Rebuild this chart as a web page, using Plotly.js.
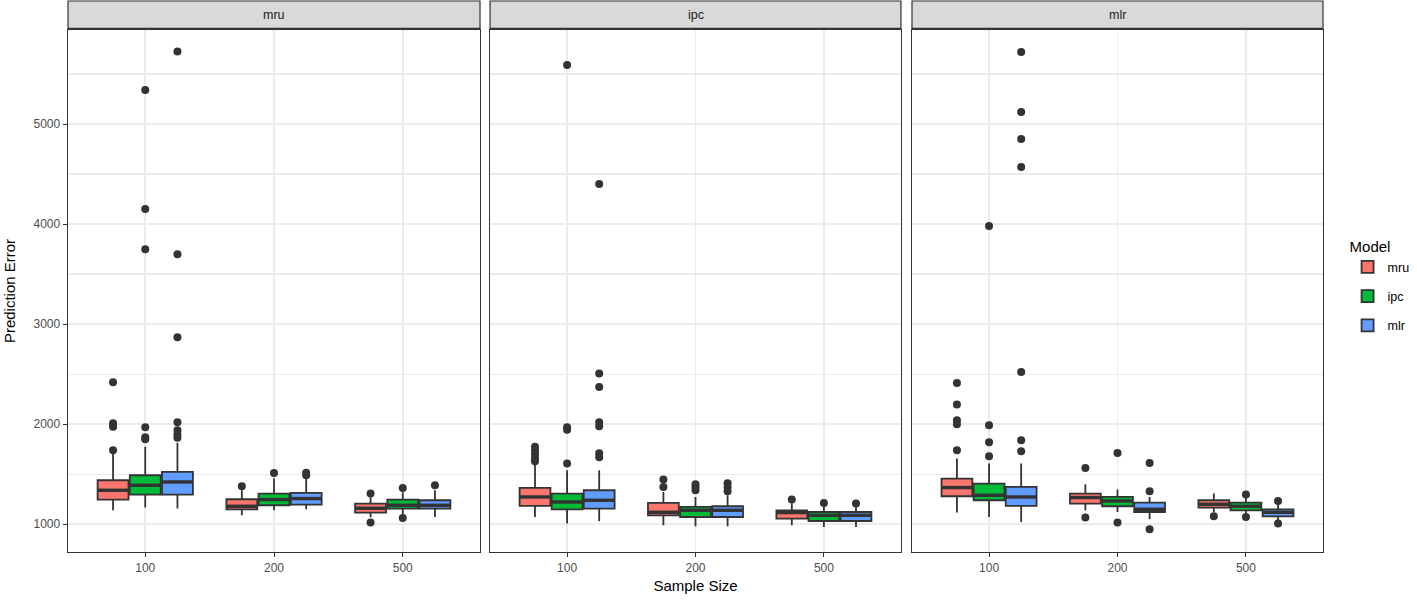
<!DOCTYPE html>
<html>
<head>
<meta charset="utf-8">
<script src="https://cdn.plot.ly/plotly-3.0.1.min.js"></script>
<style>
  body { margin: 0; background: #fff; }
  #chart { width: 1417px; height: 600px; }
</style>
</head>
<body>
<div id="chart"></div>
<script>
// facet panels, boxes inside each panel, x categories
const facets = ["mru", "ipc", "mlr"];
const models = ["mru", "ipc", "mlr"];
const sizes = ["100", "200", "500"];
const colores = ["#F8766D", "#00BA38", "#619CFF"];

// rows = model (mru, ipc, mlr), columns = sample size (100, 200, 500)
// panel "mru"
const mruQ1 = [[1247, 1150, 1117], [1297, 1190, 1157], [1297, 1197, 1157]];
const mruMed = [[1340, 1180, 1160], [1390, 1247, 1190], [1423, 1257, 1190]];
const mruQ3 = [[1440, 1250, 1207], [1490, 1307, 1247], [1523, 1313, 1240]];
const mruLo = [[1140, 1090, 1070], [1167, 1140, 1100], [1157, 1150, 1073]];
const mruHi = [[1710, 1340, 1270], [1775, 1460, 1320], [1815, 1460, 1340]];
const mruOut = [
  [[1740, 1975, 1995, 2010, 2420], [1380], [1307, 1017]],
  [[1850, 1870, 1970, 3750, 4150, 5340], [1513], [1363, 1063]],
  [[1865, 1900, 1940, 2020, 2870, 3700, 5725], [1490, 1515], [1390]]
];

// panel "ipc"
const ipcQ1 = [[1183, 1090, 1057], [1150, 1073, 1033], [1157, 1073, 1033]];
const ipcMed = [[1273, 1120, 1117], [1223, 1140, 1090], [1240, 1140, 1090]];
const ipcQ3 = [[1363, 1213, 1140], [1307, 1173, 1123], [1340, 1180, 1123]];
const ipcLo = [[1073, 990, 990], [1007, 980, 973], [1030, 980, 973]];
const ipcHi = [[1607, 1323, 1210], [1540, 1273, 1180], [1540, 1290, 1180]];
const ipcOut = [
  [[1630, 1660, 1700, 1740, 1775], [1373, 1447], [1247]],
  [[1607, 1945, 1970, 5590], [1340, 1370, 1400], [1213]],
  [[1670, 1710, 1980, 2020, 2373, 2507, 4400], [1330, 1370, 1410], [1207]]
];

// panel "mlr"
const mlrQ1 = [[1280, 1207, 1167], [1240, 1180, 1140], [1183, 1123, 1080]];
const mlrMed = [[1367, 1267, 1200], [1290, 1233, 1180], [1273, 1150, 1120]];
const mlrQ3 = [[1457, 1307, 1240], [1407, 1273, 1217], [1373, 1217, 1150]];
const mlrLo = [[1117, 1140, 1123], [1073, 1123, 1100], [1023, 1050, 1040]];
const mlrHi = [[1657, 1400, 1307], [1607, 1347, 1270], [1607, 1273, 1200]];
const mlrOut = [
  [[1740, 2000, 2040, 2197, 2413], [1563, 1067], [1080]],
  [[1680, 1820, 1990, 3980], [1713, 1017], [1297, 1073]],
  [[1730, 1840, 2523, 4570, 4850, 5120, 5720], [1330, 1613, 950], [1233, 1007]]
];

const panelStats = [
  { q1: mruQ1, med: mruMed, q3: mruQ3, lo: mruLo, hi: mruHi, out: mruOut },
  { q1: ipcQ1, med: ipcMed, q3: ipcQ3, lo: ipcLo, hi: ipcHi, out: ipcOut },
  { q1: mlrQ1, med: mlrMed, q3: mlrQ3, lo: mlrLo, hi: mlrHi, out: mlrOut }
];

const dodge = [-0.25, 0, 0.25];
const anchoCaja = 0.24;
const fuente = "Liberation Sans, Arial, Helvetica, sans-serif";
const dominios = [[0, 0.3283], [0.3363, 0.6637], [0.6725, 1]];

const traces = [];
panelStats.forEach((st, f) => {
  const sufijo = f === 0 ? "" : String(f + 1);
  models.forEach((m, i) => {
    const xs = sizes.map((_, j) => j + 1 + dodge[i]);
    traces.push({
      type: "box",
      name: m,
      legendgroup: m,
      showlegend: f === 0,
      xaxis: "x" + sufijo,
      yaxis: "y" + sufijo,
      x: xs,
      q1: st.q1[i],
      median: st.med[i],
      q3: st.q3[i],
      lowerfence: st.lo[i],
      upperfence: st.hi[i],
      width: anchoCaja,
      whiskerwidth: 0,
      boxpoints: false,
      fillcolor: colores[i],
      line: { color: "#333333", width: 1.8 },
      hoverinfo: "skip"
    });
    // median drawn thicker, like ggplot
    const mx = [], my = [];
    xs.forEach((xc, j) => {
      mx.push(xc - anchoCaja / 2, xc + anchoCaja / 2, null);
      my.push(st.med[i][j], st.med[i][j], null);
    });
    traces.push({
      type: "scatter",
      mode: "lines",
      showlegend: false,
      xaxis: "x" + sufijo,
      yaxis: "y" + sufijo,
      x: mx,
      y: my,
      line: { color: "#333333", width: 3.4 },
      hoverinfo: "skip"
    });
    // outliers
    const ox = [], oy = [];
    st.out[i].forEach((vals, j) => {
      vals.forEach(v => { ox.push(j + 1 + dodge[i]); oy.push(v); });
    });
    traces.push({
      type: "scatter",
      mode: "markers",
      showlegend: false,
      legendgroup: m,
      xaxis: "x" + sufijo,
      yaxis: "y" + sufijo,
      x: ox,
      y: oy,
      marker: { color: "#333333", size: 8 },
      hoverinfo: "skip"
    });
  });
});

const layout = {
  width: 1417,
  height: 600,
  margin: { l: 68, r: 94, t: 30, b: 48 },
  paper_bgcolor: "#fff",
  plot_bgcolor: "#fff",
  font: { family: fuente, size: 12, color: "#1A1A1A" },
  showlegend: true,
  legend: {
    xref: "container", yref: "container",
    x: 0.951, xanchor: "left",
    y: 0.612, yanchor: "top",
    title: { text: "Model", font: { size: 15, color: "#000" } },
    font: { size: 12.5, color: "#000" },
    tracegroupgap: 10,
    bgcolor: "rgba(0,0,0,0)"
  },
  shapes: [],
  annotations: []
};

dominios.forEach((d, f) => {
  const sufijo = f === 0 ? "" : String(f + 1);
  layout["xaxis" + sufijo] = {
    domain: d,
    anchor: "y" + sufijo,
    range: [0.4, 3.6],
    tickvals: [1, 2, 3],
    ticktext: sizes,
    showgrid: true,
    gridcolor: "#EBEBEB",
    gridwidth: 1.6,
    zeroline: false,
    showline: true,
    mirror: true,
    linecolor: "#333333",
    linewidth: 1.4,
    ticks: "outside",
    ticklen: 4,
    tickcolor: "#333333",
    tickfont: { size: 12, color: "#4D4D4D" },
    fixedrange: true,
    title: f === 1 ? { text: "Sample Size", font: { size: 15, color: "#000" }, standoff: 6 } : { text: "" }
  };
  layout["yaxis" + sufijo] = {
    domain: [0, 1],
    anchor: "x" + sufijo,
    range: [723, 5940],
    tick0: 0,
    dtick: 1000,
    minor: { dtick: 500, tick0: 0, showgrid: true, gridcolor: "#EBEBEB", gridwidth: 1.3, ticks: "" },
    showgrid: true,
    gridcolor: "#EBEBEB",
    gridwidth: 1.6,
    zeroline: false,
    showline: true,
    mirror: true,
    linecolor: "#333333",
    linewidth: 1.4,
    ticks: f === 0 ? "outside" : "",
    ticklen: 4,
    tickcolor: "#333333",
    showticklabels: f === 0,
    tickfont: { size: 12, color: "#4D4D4D" },
    fixedrange: true,
    title: f === 0 ? { text: "Prediction Error", font: { size: 15, color: "#000" }, standoff: 14 } : { text: "" }
  };
  // strip
  layout.shapes.push({
    type: "rect", xref: "paper", yref: "paper",
    x0: d[0], x1: d[1], y0: 1.003, y1: 1.0556,
    fillcolor: "#D9D9D9",
    line: { color: "#333333", width: 1.2 }
  });
  layout.annotations.push({
    xref: "paper", yref: "paper",
    x: (d[0] + d[1]) / 2, y: 1.029,
    xanchor: "center", yanchor: "middle",
    text: facets[f],
    showarrow: false,
    font: { size: 12.5, color: "#1A1A1A" }
  });
});

Plotly.newPlot("chart", traces, layout, { displayModeBar: false, staticPlot: true });
</script>
</body>
</html>
